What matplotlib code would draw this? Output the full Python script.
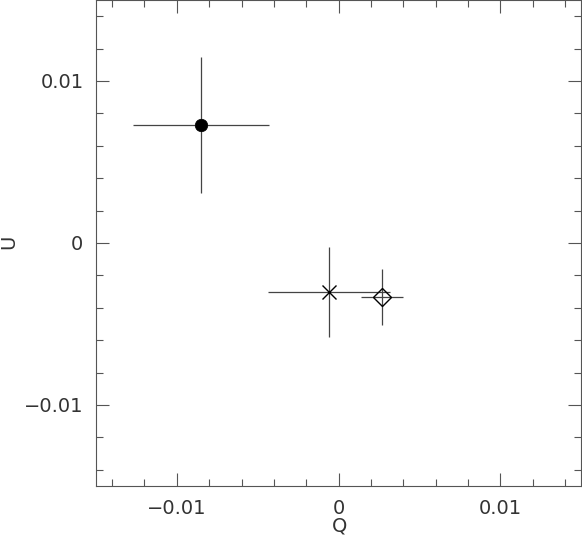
import matplotlib
matplotlib.use("Agg")
import matplotlib.pyplot as plt
from matplotlib.ticker import MultipleLocator, FuncFormatter

# Data (Q, U with errors)
q_vals = [-0.00851, -0.00059, 0.00271]
u_vals = [0.00729, -0.00303, -0.00334]
q_errs = [0.0042, 0.0038, 0.0013]
u_errs = [0.0042, 0.0028, 0.00173]
markers = ["o", "x", "D"]
marker_fill = ["black", "black", "none"]
marker_sizes = [9.0, 10.0, 8.8]

fig = plt.figure(figsize=(5.82, 5.39), dpi=100)
ax = fig.add_axes([96/582, 53/539, 485/582, 486/539])

ecol = "#444444"
for q, u, qe, ue, m, fc, ms in zip(q_vals, u_vals, q_errs, u_errs, markers, marker_fill, marker_sizes):
    ax.errorbar(q, u, xerr=qe, yerr=ue, fmt="none", ecolor=ecol, elinewidth=0.9, capsize=0, zorder=2)
    ax.plot(q, u, marker=m, markersize=ms, markerfacecolor=fc if m != "x" else "none",
            markeredgecolor="black", markeredgewidth=1.0 if m != "o" else 0.5,
            linestyle="none", zorder=3)

ax.set_xlim(-0.015, 0.015)
ax.set_ylim(-0.015, 0.015)

ax.xaxis.set_major_locator(MultipleLocator(0.01))
ax.yaxis.set_major_locator(MultipleLocator(0.01))
ax.xaxis.set_minor_locator(MultipleLocator(0.002))
ax.yaxis.set_minor_locator(MultipleLocator(0.002))

def fmt(v, pos):
    if abs(v) < 1e-9:
        return "0"
    s = f"{abs(v):.2f}"
    return ("\u2212" if v < 0 else "") + s
ax.xaxis.set_major_formatter(FuncFormatter(fmt))
ax.yaxis.set_major_formatter(FuncFormatter(fmt))

for sp in ax.spines.values():
    sp.set_color("#555555")
    sp.set_linewidth(0.8)

ax.tick_params(which="both", direction="in", top=True, right=True, color="#555555", width=0.8,
               labelsize=14, labelcolor="#333333")
ax.tick_params(which="major", length=9.4, pad=9)
ax.tick_params(which="minor", length=4.8)

fig.text(340/582, 1 - 526/539, "Q", fontsize=14, color="#333333", ha="center", va="center")
fig.text(9/582, 1 - 242/539, "U", fontsize=14, color="#333333", ha="center", va="center", rotation=90)

fig.savefig("out.png", dpi=100)
